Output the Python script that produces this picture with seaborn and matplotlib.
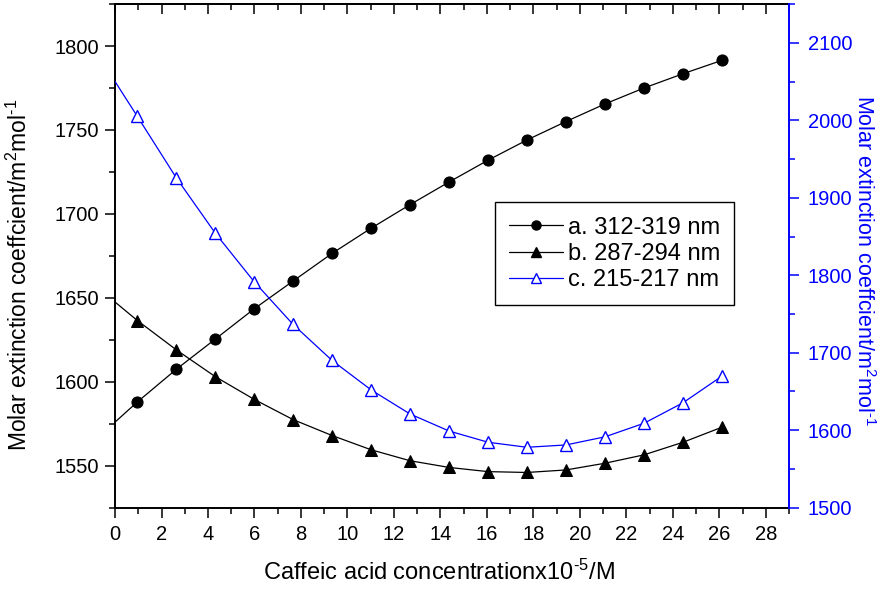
import matplotlib
matplotlib.use("Agg")
import matplotlib.pyplot as plt
from matplotlib.lines import Line2D
from matplotlib.ticker import MultipleLocator
import pandas as pd
import seaborn as sns

# Caffeic acid concentration (x10^-5 M); the first entry is the line's origin point
conc = [0, 0.96, 2.64, 4.32, 5.99, 7.66, 9.34, 11.02, 12.69, 14.37,
        16.05, 17.72, 19.40, 21.08, 22.76, 24.44, 26.12]

# Molar extinction coefficients (m^2 mol^-1)
eps_a = [1576, 1588, 1607.5, 1625.5, 1643.5, 1660, 1676.5, 1691.5, 1705.5,
         1719, 1732, 1744, 1755, 1765.5, 1775, 1783.5, 1791.5]
eps_b = [1647.5, 1636.5, 1619, 1603, 1589.5, 1577.5, 1568, 1559.5, 1553,
         1549, 1546.5, 1546, 1547.5, 1551.5, 1556.5, 1564, 1573]
eps_c = [2050, 2005, 1925.5, 1854, 1791.5, 1736.5, 1690, 1652, 1621,
         1599, 1584.5, 1578, 1581, 1591.5, 1609, 1635.5, 1670]

series_labels = ["a. 312-319 nm", "b. 287-294 nm", "c. 215-217 nm"]

x_label = r"Caffeic acid concentrationx10$\mathregular{^{\text{-}5}}$/M"
y_label = (r"Molar extinction coeffcient/m$\mathregular{^{2}}$"
           r"mol$\mathregular{^{\text{-}1}}$")

sns.set_style("ticks")
plt.rcParams["font.family"] = ["Liberation Sans", "DejaVu Sans"]
plt.rcParams["mathtext.fontset"] = "custom"
plt.rcParams["mathtext.rm"] = "Liberation Sans"
plt.rcParams["axes.edgecolor"] = "black"
plt.rcParams["text.color"] = "black"
plt.rcParams["axes.labelcolor"] = "black"
plt.rcParams["xtick.color"] = "black"
plt.rcParams["ytick.color"] = "black"

df = pd.DataFrame({"conc": conc, "a": eps_a, "b": eps_b, "c": eps_c})

fig = plt.figure(figsize=(8.89, 5.93), dpi=100)
fig.patch.set_facecolor("white")
ax = fig.add_axes([0.1294, 0.1438, 0.7582, 0.8494])
ax2 = ax.twinx()

marks = slice(1, None)
line_kw = dict(estimator=None, errorbar=None, sort=False, legend=False,
               linewidth=0.9, markevery=marks)

sns.lineplot(data=df, x="conc", y="a", ax=ax, color="black", marker="o",
             markersize=8, markeredgecolor="black", markerfacecolor="black",
             **line_kw)
sns.lineplot(data=df, x="conc", y="b", ax=ax, color="black", marker="^",
             markersize=8.5, markeredgecolor="black", markerfacecolor="black",
             **line_kw)
sns.lineplot(data=df, x="conc", y="c", ax=ax2, color="blue", marker="^",
             markersize=8.5, markeredgecolor="blue", markerfacecolor="white",
             markeredgewidth=1.0, **line_kw)

# Bottom / left axes (black)
ax.set_xlim(0, 29)
ax.set_ylim(1525, 1825)
ax.xaxis.set_major_locator(MultipleLocator(2))
ax.xaxis.set_minor_locator(MultipleLocator(1))
ax.yaxis.set_major_locator(MultipleLocator(50))
ax.yaxis.set_minor_locator(MultipleLocator(25))
ax.tick_params(axis="both", which="major", direction="out", length=7.5,
               width=1.1, labelsize=14.5, top=False, right=False, pad=5)
ax.tick_params(axis="both", which="minor", direction="out", length=4,
               width=1.1, top=False, right=False)
ax.tick_params(axis="y", which="major", pad=4)
for side in ("left", "bottom", "top"):
    ax.spines[side].set_linewidth(1.4)
    ax.spines[side].set_color("black")
ax.spines["right"].set_visible(False)

# Inward ticks along the top edge
top = ax.secondary_xaxis("top")
top.xaxis.set_major_locator(MultipleLocator(2))
top.xaxis.set_minor_locator(MultipleLocator(1))
top.tick_params(axis="x", which="major", direction="in", length=7.5,
                width=1.1, labeltop=False, labelbottom=False)
top.tick_params(axis="x", which="minor", direction="in", length=4,
                width=1.1, labeltop=False, labelbottom=False)
top.spines["top"].set_linewidth(1.4)

# Right axis (blue)
ax2.set_ylim(1500, 2150)
ax2.yaxis.set_major_locator(MultipleLocator(100))
ax2.yaxis.set_minor_locator(MultipleLocator(50))
ax2.tick_params(axis="y", which="major", direction="out", length=7.5,
                width=1.1, colors="blue", labelsize=14.5, pad=6)
ax2.tick_params(axis="y", which="minor", direction="out", length=4,
                width=1.1, colors="blue")
for side in ("left", "bottom", "top"):
    ax2.spines[side].set_visible(False)
ax2.spines["right"].set_color("blue")
ax2.spines["right"].set_linewidth(1.4)

ax.set_xlabel(x_label, fontsize=17)
ax.set_ylabel(y_label, fontsize=16.5)
ax2.set_ylabel(y_label, fontsize=15.5, color="blue", rotation=270, va="bottom")
ax.xaxis.set_label_coords(0.48, -0.104)
ax.yaxis.set_label_coords(-0.124, 0.462)
ax2.yaxis.set_label_coords(1.093, 0.490)

handles = [
    Line2D([], [], color="black", lw=0.9, marker="o", ms=6.5,
           mfc="black", mec="black"),
    Line2D([], [], color="black", lw=0.9, marker="^", ms=7,
           mfc="black", mec="black"),
    Line2D([], [], color="blue", lw=0.9, marker="^", ms=7,
           mfc="white", mec="blue", mew=1.0),
]
leg = ax2.legend(handles, series_labels, loc="upper left",
                 bbox_to_anchor=(0.563, 0.606), borderaxespad=0,
                 frameon=True, fancybox=False, framealpha=1,
                 edgecolor="black", fontsize=17, handlelength=2.3,
                 handletextpad=0.2, borderpad=0.6, labelspacing=0.18)
leg.get_frame().set_linewidth(1.0)

fig.savefig("out.png", dpi=100, facecolor="white")
